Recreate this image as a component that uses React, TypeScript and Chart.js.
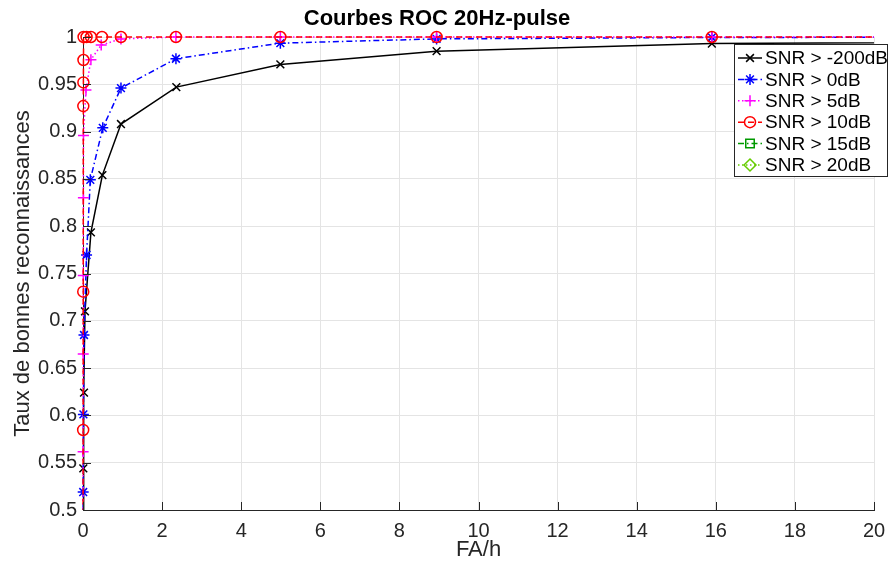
import React, { useEffect, useRef } from 'react';
import { Chart, registerables } from 'chart.js';

Chart.register(...registerables);

// ---- Data ----
const chartTitle = 'Courbes ROC 20Hz-pulse';
const xLabel = 'FA/h';
const yLabel = 'Taux de bonnes reconnaissances';
const seriesLabels = ['SNR > -200dB', 'SNR > 0dB', 'SNR > 5dB', 'SNR > 10dB', 'SNR > 15dB', 'SNR > 20dB'];

const faM200 = [0, 0.008, 0.025, 0.05, 0.2, 0.49, 0.96, 2.36, 4.99, 8.94, 15.9, 28];
const tauxM200 = [0.4, 0.544, 0.624, 0.71, 0.7935, 0.854, 0.908, 0.947, 0.971, 0.985, 0.993, 0.996];

const fa0 = [0, 0.005, 0.01, 0.025, 0.09, 0.185, 0.5, 0.96, 2.35, 4.99, 8.94, 15.9, 28];
const taux0 = [0.4, 0.519, 0.601, 0.685, 0.7696, 0.849, 0.904, 0.946, 0.977, 0.9935, 0.998, 0.9995, 1.0];

const fa5 = [0, 0.003, 0.006, 0.008, 0.01, 0.012, 0.075, 0.2, 0.46, 0.96, 2.35, 4.99, 8.94, 15.9, 28];
const taux5 = [0.4, 0.5617, 0.665, 0.748, 0.83, 0.896, 0.944, 0.976, 0.9915, 0.998, 1, 1, 1, 1, 1];

const fa10 = [0, 0.004, 0.006, 0.008, 0.01, 0.012, 0.015, 0.09, 0.2, 0.48, 0.96, 2.35, 4.99, 8.94, 15.9, 28];
const taux10 = [0.4, 0.5846, 0.7308, 0.927, 0.952, 0.9757, 1, 1, 1, 1, 1, 1, 1, 1, 1, 1];

// not visible in the plotting range of the reference
const fa15: number[] = [];
const taux15: number[] = [];
const fa20: number[] = [];
const taux20: number[] = [];

const xMin = 0, xMax = 20, xStep = 2;
const yMin = 0.5, yMax = 1, yStep = 0.05;

// ---- Styles ----
const styles = [
  { color: '#000000', dash: [] as number[], point: 'crossRot', radius: 5.5 },
  { color: '#0000ff', dash: [6, 3, 1.5, 3], point: 'star', radius: 5.5 },
  { color: '#ff00ff', dash: [1.5, 2.5], point: 'cross', radius: 5.5 },
  { color: '#ff0000', dash: [6, 4], point: 'circle', radius: 5.5 },
  { color: '#009900', dash: [6, 3, 1.5, 3], point: 'rect', radius: 6 },
  { color: '#66cc00', dash: [1.5, 2.5], point: 'rectRot', radius: 6 },
];

const seriesX = [faM200, fa0, fa5, fa10, fa15, fa20];
const seriesY = [tauxM200, taux0, taux5, taux10, taux15, taux20];

const FONT = '"Liberation Sans", Arial, Helvetica, sans-serif';
const AXIS_COLOR = '#262626';
const LINE_W = 1.5;

function drawMarker(ctx: CanvasRenderingContext2D, kind: string, x: number, y: number, r: number) {
  ctx.beginPath();
  const d = r * Math.SQRT1_2;
  switch (kind) {
    case 'crossRot':
      ctx.moveTo(x - d, y - d); ctx.lineTo(x + d, y + d);
      ctx.moveTo(x - d, y + d); ctx.lineTo(x + d, y - d);
      break;
    case 'cross':
      ctx.moveTo(x - r, y); ctx.lineTo(x + r, y);
      ctx.moveTo(x, y - r); ctx.lineTo(x, y + r);
      break;
    case 'star':
      ctx.moveTo(x - r, y); ctx.lineTo(x + r, y);
      ctx.moveTo(x, y - r); ctx.lineTo(x, y + r);
      ctx.moveTo(x - d, y - d); ctx.lineTo(x + d, y + d);
      ctx.moveTo(x - d, y + d); ctx.lineTo(x + d, y - d);
      break;
    case 'circle':
      ctx.arc(x, y, r, 0, Math.PI * 2);
      break;
    case 'rect':
      ctx.rect(x - d, y - d, 2 * d, 2 * d);
      break;
    case 'rectRot':
      ctx.moveTo(x - r, y); ctx.lineTo(x, y - r); ctx.lineTo(x + r, y); ctx.lineTo(x, y + r); ctx.closePath();
      break;
  }
  ctx.stroke();
}

const decorPlugin = {
  id: 'decor',
  afterDraw(chart: any) {
    const ctx: CanvasRenderingContext2D = chart.ctx;
    const { left, bottom } = chart.chartArea;
    const xs = chart.scales.x;
    const ys = chart.scales.y;
    // inward tick marks
    ctx.save();
    ctx.strokeStyle = AXIS_COLOR;
    ctx.lineWidth = 1;
    ctx.setLineDash([]);
    ctx.beginPath();
    xs.ticks.forEach((t: any) => {
      const px = Math.round(xs.getPixelForValue(t.value)) + 0.5;
      ctx.moveTo(px, bottom);
      ctx.lineTo(px, bottom - 8);
    });
    ys.ticks.forEach((t: any) => {
      const py = Math.round(ys.getPixelForValue(t.value)) + 0.5;
      ctx.moveTo(left, py);
      ctx.lineTo(left + 8, py);
    });
    ctx.stroke();

    // legend box
    const bx = 734.5, by = 44.5, bw = 153, bh = 132;
    ctx.fillStyle = '#ffffff';
    ctx.fillRect(bx, by, bw, bh);
    ctx.strokeStyle = AXIS_COLOR;
    ctx.strokeRect(bx, by, bw, bh);
    ctx.font = `19px ${FONT}`;
    ctx.textBaseline = 'middle';
    ctx.textAlign = 'left';
    seriesLabels.forEach((label, i) => {
      const st = styles[i];
      const cy = 58 + i * 21.4;
      ctx.strokeStyle = st.color;
      ctx.lineWidth = LINE_W;
      ctx.setLineDash(st.dash);
      ctx.beginPath();
      ctx.moveTo(738, cy);
      ctx.lineTo(762, cy);
      ctx.stroke();
      ctx.setLineDash([]);
      drawMarker(ctx, st.point, 750, cy, st.radius);
      ctx.fillStyle = '#000000';
      ctx.fillText(label, 765, cy + 1);
    });
    ctx.restore();
  },
};

export default function App() {
  const ref = useRef<HTMLCanvasElement>(null);
  useEffect(() => {
    document.body.style.margin = '0';
    const canvas = ref.current;
    if (!canvas) return;
    Chart.defaults.font.family = FONT;
    const datasets = seriesLabels.map((label, i) => ({
      label,
      data: seriesX[i].map((x, j) => ({ x, y: seriesY[i][j] })),
      borderColor: styles[i].color,
      backgroundColor: 'rgba(0,0,0,0)',
      borderWidth: LINE_W,
      borderDash: styles[i].dash,
      pointStyle: styles[i].point as any,
      pointRadius: styles[i].radius,
      pointBorderWidth: LINE_W,
      pointBorderColor: styles[i].color,
      pointBackgroundColor: 'rgba(0,0,0,0)',
      tension: 0,
      fill: false,
      order: 10 - i,
      clip: { left: 8, top: 8, right: 0, bottom: 0 },
    }));
    const chart = new Chart(canvas, {
      type: 'line',
      data: { datasets },
      plugins: [decorPlugin],
      options: {
        animation: false,
        responsive: false,
        devicePixelRatio: 1,
        layout: { padding: { left: 0, right: 14, top: 0, bottom: 0 } },
        plugins: {
          legend: { display: false },
          tooltip: { enabled: false },
          title: {
            display: true,
            text: chartTitle,
            color: '#000000',
            font: { size: 22, weight: 'bold', family: FONT },
            padding: { top: 6, bottom: 4.6 },
          },
        },
        scales: {
          x: {
            type: 'linear',
            min: xMin,
            max: xMax,
            afterFit: (s: any) => { s.height = 54; s.paddingLeft = 0; s.paddingRight = 0; },
            ticks: { stepSize: xStep, color: AXIS_COLOR, font: { size: 20 }, padding: 9, maxRotation: 0 },
            grid: { color: '#e4e4e4', drawTicks: false },
            border: { color: AXIS_COLOR, width: 1 },
            title: {
              display: true,
              text: xLabel,
              color: AXIS_COLOR,
              font: { size: 22 },
              padding: { top: 0, bottom: 1 },
            },
          },
          y: {
            type: 'linear',
            min: yMin,
            max: yMax,
            afterFit: (s: any) => { s.width = 83; s.paddingTop = 0; s.paddingBottom = 0; },
            ticks: {
              stepSize: yStep,
              color: AXIS_COLOR,
              font: { size: 20 },
              padding: 6,
              callback: (v: any) => String(Math.round(Number(v) * 100) / 100),
            },
            grid: { color: '#e4e4e4', drawTicks: false },
            border: { color: AXIS_COLOR, width: 1 },
            title: {
              display: true,
              text: yLabel,
              color: AXIS_COLOR,
              font: { size: 22 },
              padding: { top: 10, bottom: 0 },
            },
          },
        },
      },
    });
    return () => chart.destroy();
  }, []);
  return (
    <div style={{ width: 888, height: 564 }}>
      <canvas ref={ref} width={888} height={564} style={{ display: 'block' }} />
    </div>
  );
}
